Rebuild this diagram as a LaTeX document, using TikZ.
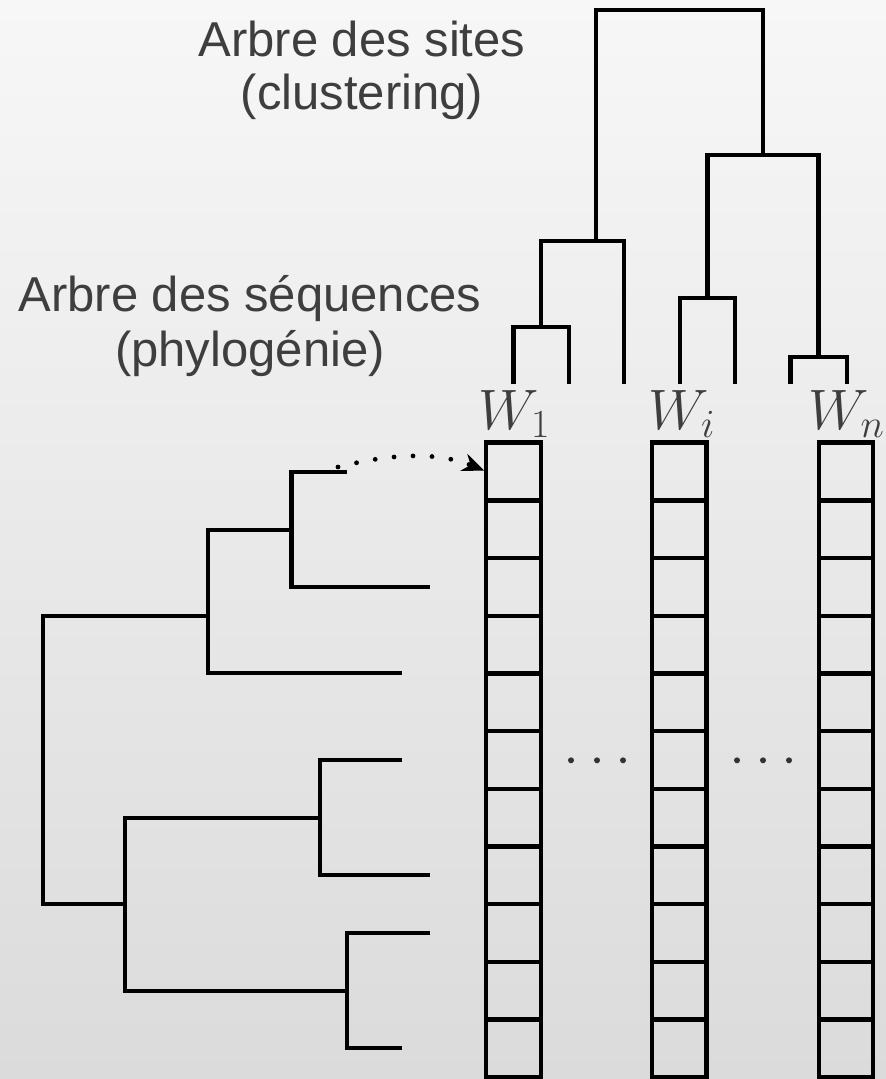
\RequirePackage{fix-cm}
\documentclass[tikz,border=0pt]{standalone}
\usepackage{fontspec}
\newfontfamily\labelfont{Liberation Sans}
\usetikzlibrary{arrows.meta}

\definecolor{bgtop}{HTML}{F7F7F7}
\definecolor{bgbot}{HTML}{DBDBDB}
\definecolor{ink}{HTML}{3E3E3E}
\definecolor{dotink}{HTML}{333333}

\begin{document}
\begin{tikzpicture}[x=0.5pt,y=-0.5pt,
  branch/.style={line width=2.15pt,black,line join=miter},
  cell/.style={draw=black,line width=2.2pt,minimum width=27.25pt,minimum height=28.85pt,inner sep=0pt,outer sep=0pt},
  lab/.style={text=ink,font=\labelfont\fontsize{24.5}{29}\selectfont,inner sep=0pt,anchor=base},
  wlab/.style={text=ink,font=\fontsize{28.5}{34}\selectfont,inner sep=0pt,anchor=base},
  dotarrow/.style={line width=2.4pt,line cap=round,dash pattern=on 0pt off 9.5pt,
    -{Stealth[length=11pt,width=9pt,line cap=butt]},shorten >=1pt}]

% background
\useasboundingbox (0,0) rectangle (886,1079);
\fill[top color=bgtop,bottom color=bgbot] (0,0) rectangle (886,1079);

% labels
\node[lab] (sites1) at (362,57) {Arbre des sites};
\node[lab] (sites2) at (362,110) {(clustering)};
\node[lab] (seq1) at (250,312) {Arbre des séquences};
\node[lab] (seq2) at (250,366) {(phylogénie)};

% site tree (top)
\coordinate (t1) at (513.5,384);
\coordinate (t2) at (569,384);
\coordinate (t3) at (624.3,384);
\coordinate (t4) at (680,384);
\coordinate (t5) at (735,384);
\coordinate (t6) at (790.5,384);
\coordinate (t7) at (847,384);
\coordinate (ta) at (541.3,327);
\coordinate (tb) at (596,241);
\coordinate (tc) at (707.5,298);
\coordinate (td) at (818.5,357);
\coordinate (te) at (763,155);
\coordinate (tr) at (679.5,10);
\draw[branch] (t1) |- (ta) -| (t2);
\draw[branch] (ta) |- (tb) -| (t3);
\draw[branch] (t4) |- (tc) -| (t5);
\draw[branch] (t6) |- (td) -| (t7);
\draw[branch] (tc) |- (te) -| (td);
\draw[branch] (tb) |- (tr) -| (te);

% sequence tree (left)
\coordinate (s1) at (346.5,472);
\coordinate (s2) at (430,587);
\coordinate (s3) at (402,673);
\coordinate (s4) at (402,760);
\coordinate (s5) at (430,875);
\coordinate (s6) at (430,933);
\coordinate (s7) at (402,1048);
\coordinate (sp) at (291.5,530);
\coordinate (sq) at (208,616);
\coordinate (st) at (320,818);
\coordinate (su) at (347,991);
\coordinate (ss) at (125,904);
\coordinate (sr) at (43,760);
\draw[branch] (s1) -| (sp) |- (s2);
\draw[branch] (sp) -| (sq) |- (s3);
\draw[branch] (s4) -| (st) |- (s5);
\draw[branch] (s6) -| (su) |- (s7);
\draw[branch] (st) -| (ss) |- (su);
\draw[branch] (sq) -| (sr) |- (ss);

% site columns
\foreach \cx [count=\ci] in {513.5,679.25,846} {
  \foreach \r in {0,...,10} {
    \node[cell] (c\ci-\r) at (\cx,{471.45+57.7*\r}) {};
  }
}

% column labels
\node[wlab] (w1) at (514.5,429) {$W_1$};
\node[wlab] (wi) at (682,429) {$W_i$};
\node[wlab] (wn) at (846.5,429) {$W_n$};

% ellipses between columns
\foreach \dx in {571,597,623,737,763,789}
  \fill[dotink] (\dx,760.3) circle (1.5pt);

% first sequence mapped to first cell
\coordinate (arrowstart) at (338,467);
\draw[dotarrow] (arrowstart) .. controls (390,454) and (436,451) .. (c1-0.west);

\end{tikzpicture}
\end{document}
